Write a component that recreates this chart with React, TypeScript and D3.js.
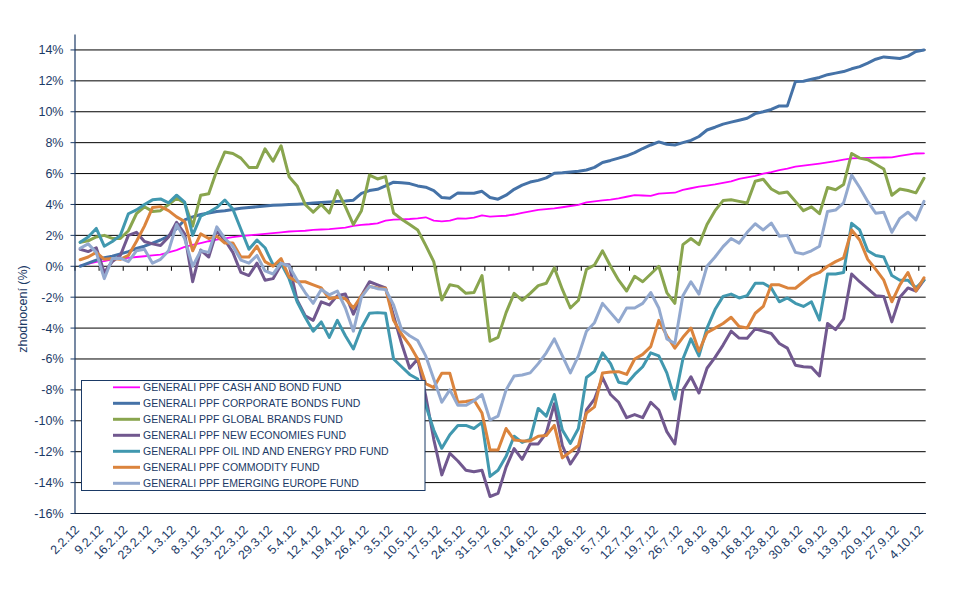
import React from "react";
import * as d3 from "d3";

// ---- categories: observation dates (3 per week, starting 3.2.2012) ----
const START = Date.UTC(2012, 1, 3, 12);
const dates: Date[] = d3.range(106).map((i) => new Date(START + i * 56 * 3600 * 1000));

// ---- weekly axis labels ----
const tickDates: Date[] = d3.utcThursday.range(Date.UTC(2012, 1, 2), Date.UTC(2012, 9, 5));
const yTicks: number[] = d3.range(-16, 15, 2);

// ---- series values (% appreciation) ----
const cashBond = [0.04,0.16,0.28,0.34,0.45,0.5,0.55,0.6,0.65,0.7,
 0.75,0.9,1.05,1.25,1.38,1.5,1.62,1.72,1.8,1.88,
 1.95,2.0,2.05,2.1,2.15,2.2,2.25,2.28,2.3,2.35,
 2.38,2.4,2.45,2.5,2.62,2.68,2.72,2.78,2.95,3.02,
 3.04,3.06,3.1,3.17,2.95,2.9,2.95,3.1,3.08,3.15,
 3.3,3.21,3.24,3.27,3.35,3.45,3.55,3.65,3.7,3.75,
 3.82,3.9,3.98,4.14,4.2,4.27,4.32,4.4,4.5,4.6,
 4.58,4.55,4.7,4.73,4.76,4.95,5.05,5.15,5.22,5.3,
 5.4,5.5,5.65,5.76,5.85,6.0,6.1,6.22,6.32,6.45,
 6.52,6.58,6.65,6.72,6.8,6.9,6.98,7.0,7.02,7.03,
 7.04,7.05,7.15,7.22,7.3,7.31];

const corporateBonds = [0.0,0.2,0.4,0.55,0.65,0.8,0.95,1.15,1.3,1.5,
 1.7,1.95,2.45,3.0,3.2,3.35,3.45,3.55,3.6,3.68,
 3.75,3.8,3.85,3.9,3.95,3.97,4.0,4.02,4.05,4.1,
 4.13,4.16,4.2,4.23,4.28,4.72,4.9,4.98,5.2,5.44,
 5.4,5.35,5.2,5.12,4.9,4.45,4.4,4.75,4.72,4.73,
 4.85,4.45,4.34,4.6,4.98,5.25,5.45,5.56,5.72,6.02,
 6.05,6.1,6.15,6.23,6.4,6.72,6.85,7.0,7.15,7.35,
 7.62,7.85,8.05,7.9,7.85,8.0,8.15,8.4,8.82,9.0,
 9.2,9.33,9.45,9.58,9.88,10.0,10.15,10.38,10.38,11.95,
 11.98,12.1,12.22,12.4,12.5,12.6,12.78,12.92,13.15,13.4,
 13.55,13.5,13.45,13.6,13.9,14.0];

const globalBrands = [1.55,1.65,1.9,2.0,1.8,1.8,2.3,3.4,3.85,3.55,
 3.6,4.0,4.4,4.1,2.6,4.6,4.7,6.2,7.4,7.3,
 7.0,6.4,6.4,7.6,6.8,7.8,5.8,5.2,4.0,3.5,
 4.0,3.45,4.9,3.86,2.7,3.6,5.9,5.65,5.8,3.45,
 3.05,2.7,2.35,1.35,0.3,-2.18,-1.2,-1.3,-1.75,-1.7,
 -0.6,-4.85,-4.6,-3.0,-1.75,-2.2,-1.75,-1.25,-1.1,-0.1,
 -1.5,-2.7,-2.2,-0.2,0.08,1.0,0.0,-0.9,-1.6,-0.65,
 -1.0,-0.5,0.0,-1.7,-2.4,1.4,1.8,1.4,2.7,3.6,
 4.25,4.3,4.2,4.1,5.5,5.63,5.0,4.72,4.8,4.2,
 3.6,3.85,3.4,5.1,4.95,5.3,7.3,7.0,6.9,6.6,
 6.3,4.6,5.0,4.9,4.75,5.7];

const newEconomies = [1.1,0.95,1.2,-0.4,0.3,0.7,2.0,2.2,1.6,1.45,
 1.35,1.9,2.85,2.1,-1.0,1.05,0.6,2.3,1.7,0.9,
 -0.4,-0.6,0.2,-0.9,-0.8,0.1,0.1,-2.2,-3.2,-3.5,
 -2.3,-2.5,-1.9,-1.8,-3.1,-1.9,-1.0,-1.2,-1.4,-3.2,
 -5.0,-6.6,-6.0,-8.4,-11.2,-13.5,-12.1,-12.6,-13.2,-13.3,
 -13.2,-14.9,-14.7,-13.0,-11.8,-12.5,-11.5,-11.5,-10.8,-8.9,
 -11.6,-12.8,-12.0,-9.3,-8.6,-7.2,-8.3,-8.8,-9.8,-9.6,
 -9.8,-8.8,-9.3,-10.7,-11.5,-8.0,-7.15,-8.2,-6.6,-5.9,
 -5.1,-4.2,-4.65,-4.66,-4.05,-4.2,-4.35,-5.0,-5.3,-6.4,
 -6.5,-6.54,-7.1,-3.7,-4.1,-3.4,-0.5,-1.0,-1.45,-1.9,
 -1.95,-3.6,-2.0,-1.4,-1.6,-0.9];

const oilEnergy = [1.55,1.9,2.45,1.3,1.6,2.0,3.4,3.65,4.0,4.3,
 4.36,4.1,4.6,4.15,2.0,3.25,3.5,3.8,4.29,3.7,
 2.4,1.1,1.7,1.2,0.1,0.2,-0.8,-2.3,-3.3,-4.2,
 -3.6,-4.6,-3.5,-4.5,-5.35,-4.0,-3.04,-3.0,-3.04,-6.0,
 -6.5,-7.0,-7.3,-9.0,-10.6,-11.78,-10.9,-10.3,-10.3,-10.5,
 -10.1,-13.6,-13.2,-12.3,-11.0,-11.4,-11.2,-9.2,-9.7,-8.3,
 -10.6,-11.46,-10.5,-7.2,-6.8,-5.6,-6.3,-7.5,-7.6,-7.0,
 -6.5,-5.6,-5.8,-6.9,-8.6,-6.0,-4.7,-5.8,-4.0,-2.8,
 -1.95,-1.8,-2.05,-1.9,-1.1,-1.1,-1.4,-2.3,-2.05,-2.4,
 -2.6,-2.3,-3.48,-0.5,-0.5,-0.4,2.78,2.35,1.0,0.7,
 0.6,-0.6,-0.9,-0.9,-1.4,-0.9];

const commodity = [0.42,0.6,0.9,0.45,0.5,0.45,0.7,1.6,2.6,3.8,
 3.86,3.6,3.2,2.9,1.0,2.1,1.8,1.95,1.5,1.5,
 0.6,0.6,1.3,0.3,0.0,0.5,-0.7,-1.0,-1.0,-1.2,
 -1.4,-2.1,-2.0,-2.1,-2.7,-1.9,-1.3,-1.4,-1.42,-3.5,
 -4.4,-5.1,-6.0,-7.6,-7.85,-6.93,-6.93,-8.8,-8.75,-8.65,
 -9.5,-11.89,-11.89,-10.5,-11.24,-11.3,-11.3,-11.0,-10.95,-10.3,
 -12.4,-12.0,-11.6,-9.5,-9.1,-6.9,-6.85,-6.82,-7.0,-6.0,
 -5.7,-5.2,-3.5,-4.5,-5.3,-4.6,-4.0,-5.5,-4.3,-4.0,
 -3.7,-3.3,-3.9,-4.0,-3.04,-2.6,-1.2,-1.2,-1.4,-1.42,
 -1.0,-0.6,-0.4,0.0,0.3,0.55,2.35,1.7,0.45,-0.2,
 -0.9,-2.3,-1.2,-0.4,-1.6,-0.75];

const emergingEurope = [1.17,1.45,0.9,-0.8,0.5,0.52,0.3,1.0,1.1,0.2,
 0.45,1.0,2.7,1.8,0.0,1.0,0.9,2.55,1.8,1.3,
 0.4,0.2,0.7,-0.3,-0.5,0.2,0.0,-0.9,-1.7,-2.4,
 -1.5,-1.85,-1.6,-2.7,-4.2,-2.0,-1.3,-1.45,-1.5,-2.5,
 -4.1,-4.5,-4.8,-5.8,-7.3,-8.8,-8.0,-9.0,-9.0,-8.7,
 -8.3,-9.95,-9.7,-8.0,-7.1,-7.04,-6.9,-6.3,-5.6,-4.7,
 -5.8,-6.9,-5.8,-4.2,-3.65,-2.4,-3.0,-3.6,-2.7,-2.7,
 -2.4,-1.7,-2.7,-4.7,-5.0,-1.9,-1.0,-1.8,0.0,0.6,
 1.27,1.8,1.5,2.2,2.75,2.35,2.8,1.95,2.0,0.9,
 0.8,1.0,1.3,3.55,3.64,4.1,5.9,5.1,4.2,3.43,
 3.5,2.2,3.1,3.5,3.0,4.2];

const seriesNames = [
  "GENERALI PPF CASH AND BOND FUND",
  "GENERALI PPF CORPORATE BONDS FUND",
  "GENERALI PPF GLOBAL BRANDS FUND",
  "GENERALI PPF NEW ECONOMIES FUND",
  "GENERALI PPF OIL IND AND ENERGY PRD FUND",
  "GENERALI PPF COMMODITY FUND",
  "GENERALI PPF EMERGING EUROPE FUND",
];
const seriesValues = [cashBond, corporateBonds, globalBrands, newEconomies, oilEnergy, commodity, emergingEurope];
const seriesColors = ["#FF00FF", "#4572A7", "#89A54E", "#71588F", "#4198AF", "#DB843D", "#93A9CF"];
const seriesWidths = [1.8, 3, 3, 3, 3, 3, 3];

const W = 964;
const H = 594;
const PL = 75;
const PR = 925.7;
const PT = 34.5;
const PB = 513.5;
const TEXT = "#1B3A66";
const FONT = "Arial, 'Liberation Sans', sans-serif";

export default function App() {
  const x = d3.scaleUtc().domain([new Date(Date.UTC(2012, 1, 2)), new Date(Date.UTC(2012, 9, 6))]).range([PL, PR]);
  const y = d3.scaleLinear().domain([-16, 15]).range([PB, PT]);
  const line = d3
    .line<number>()
    .x((_, i) => x(dates[i]))
    .y((v) => y(v));
  const fmt = d3.utcFormat("%-d.%-m.%y");
  const y0 = y(0);

  return (
    <svg width={W} height={H} style={{ position: "absolute", left: 0, top: 0, background: "#fff" }} fontFamily={FONT}>
      <rect x={0} y={0} width={W} height={H} fill="#fff" />
      {/* gridlines */}
      {yTicks.map((v) => (
        <line key={"g" + v} x1={PL} x2={PR} y1={y(v)} y2={y(v)} stroke="#000" strokeWidth={1} />
      ))}
      {/* y ticks & labels */}
      {yTicks.map((v) => (
        <g key={"t" + v}>
          <line x1={PL - 4.5} x2={PL} y1={y(v)} y2={y(v)} stroke={TEXT} strokeWidth={1} />
          <text x={63.5} y={y(v) + 4.5} textAnchor="end" fontSize={12.5} fill={TEXT}>
            {v + "%"}
          </text>
        </g>
      ))}
      {/* category axis ticks on 0 line */}
      {tickDates.map((d) => (
        <line key={"xt" + d.getTime()} x1={x(d)} x2={x(d)} y1={y0} y2={y0 + 4.5} stroke="#000" strokeWidth={1} />
      ))}
      {/* left axis */}
      <line x1={PL} x2={PL} y1={PT} y2={PB} stroke={TEXT} strokeWidth={1.2} />
      <line x1={PL} x2={PR} y1={PB} y2={PB} stroke="#0a1a33" strokeWidth={1.2} />
      {/* x labels */}
      {tickDates.map((d) => (
        <text
          key={"xl" + d.getTime()}
          transform={`translate(${x(d) + 5},${PB + 17}) rotate(-45)`}
          textAnchor="end"
          fontSize={12.5}
          fill={TEXT}
        >
          {fmt(d)}
        </text>
      ))}
      {/* axis title */}
      <text transform={`translate(27,309) rotate(-90)`} textAnchor="middle" fontSize={12.5} fill={TEXT}>
        zhodnocení (%)
      </text>
      {/* series */}
      {seriesValues.map((vals, k) => (
        <path
          key={"s" + k}
          d={line(vals) || ""}
          fill="none"
          stroke={seriesColors[k]}
          strokeWidth={seriesWidths[k]}
          strokeLinejoin="round"
          strokeLinecap="round"
        />
      ))}
      {/* legend */}
      <g>
        <rect x={81.5} y={380.5} width={343.5} height={110} fill="#fff" stroke={TEXT} strokeWidth={1} />
        {seriesNames.map((name, k) => {
          const ly = 387.3 + k * 16;
          return (
            <g key={"l" + k}>
              <line x1={113} x2={140} y1={ly} y2={ly} stroke={seriesColors[k]} strokeWidth={seriesWidths[k]} />
              <text x={143} y={ly + 3.8} fontSize={10.5} fill={TEXT}>
                {name}
              </text>
            </g>
          );
        })}
      </g>
    </svg>
  );
}
